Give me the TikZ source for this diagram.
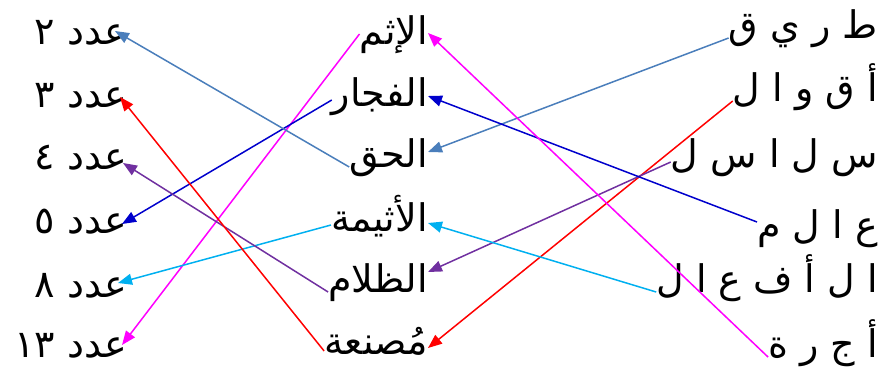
\documentclass[tikz,border=0pt]{standalone}
\usepackage{fontspec}
\usepackage{xcolor}
\usepackage{tikz}
\usetikzlibrary{arrows.meta}
\TeXXeTstate=1
\newfontfamily\arabicfont[Script=Arabic]{DejaVu Sans}
\definecolor{linkblue}{RGB}{74,126,187}
\definecolor{linkred}{RGB}{255,0,0}
\definecolor{linknavy}{RGB}{0,0,204}
\definecolor{linkpurple}{RGB}{112,48,160}
\definecolor{linkcyan}{RGB}{0,176,240}
\definecolor{linkmagenta}{RGB}{255,0,255}
\tikzset{
  word/.style={font=\arabicfont\fontsize{38}{46}\selectfont,inner sep=0pt,anchor=base east,text=black},
  link/.style={line width=1.5pt,-{Triangle[length=14pt,width=11pt]}}
}

\begin{document}
\begin{tikzpicture}[x=1pt,y=-1pt]
\useasboundingbox (0,0) rectangle (892,372);
% right column: spelled-out words
\node[word] (r1) at (878,38) {\beginR ط ر ي ق\endR};
\node[word] (r2) at (878,101) {\beginR أ ق و ا ل\endR};
\node[word] (r3) at (878,167) {\beginR س ل ا س ل\endR};
\node[word] (r4) at (878,238) {\beginR ع ا ل م\endR};
\node[word] (r5) at (878,292) {\beginR ا ل أ ف ع ا ل\endR};
\node[word] (r6) at (878,357) {\beginR أ ج ر ة\endR};
% middle column
\node[word] (m1) at (428,44) {\beginR الإثم\endR};
\node[word] (m2) at (428,106) {\beginR الفجار\endR};
\node[word] (m3) at (428,167) {\beginR الحق\endR};
\node[word] (m4) at (428,231) {\beginR الأثيمة\endR};
\node[word] (m5) at (428,292) {\beginR الظلام\endR};
\node[word] (m6) at (428,354) {\beginR مُصنعة\endR};
% left column: verse numbers
\node[word] (l1) at (127,44) {\beginR عدد ٢\endR};
\node[word] (l2) at (127,107) {\beginR عدد ٣\endR};
\node[word] (l3) at (127,169) {\beginR عدد ٤\endR};
\node[word] (l4) at (127,233) {\beginR عدد ٥\endR};
\node[word] (l5) at (127,297) {\beginR عدد ٨\endR};
\node[word] (l6) at (127,357) {\beginR عدد ١٣\endR};
% right to middle
\draw[link,linkblue] (r1.base west) -- ([yshift=15pt]m3.base east);
\draw[link,linkred] (r2.base west) -- ([yshift=6pt]m6.base east);
\draw[link,linkpurple] ([yshift=5pt]r3.base west) -- ([yshift=20pt]m5.base east);
\draw[link,linknavy] ([yshift=16pt]r4.base west) -- ([yshift=10pt]m2.base east);
\draw[link,linkcyan] (r5.base west) -- ([yshift=8pt]m4.base east);
\draw[link,linkmagenta] (r6.base west) -- ([yshift=11pt]m1.base east);
% middle to left
\draw[link,linkmagenta] ([yshift=10pt]m1.base west) -- ([xshift=-5pt,yshift=12pt]l6.base east);
\draw[link,linknavy] ([yshift=6pt]m2.base west) -- ([xshift=-5pt,yshift=9pt]l4.base east);
\draw[link,linkblue] (m3.base west) -- ([xshift=-12pt,yshift=13pt]l1.base east);
\draw[link,linkcyan] ([yshift=6pt]m4.base west) -- ([xshift=-9pt,yshift=14pt]l5.base east);
\draw[link,linkpurple] (m5.base west) -- ([xshift=-4pt,yshift=6pt]l3.base east);
\draw[link,linkred] ([yshift=3pt]m6.base west) -- ([xshift=-7pt,yshift=10pt]l2.base east);
\end{tikzpicture}
\end{document}
